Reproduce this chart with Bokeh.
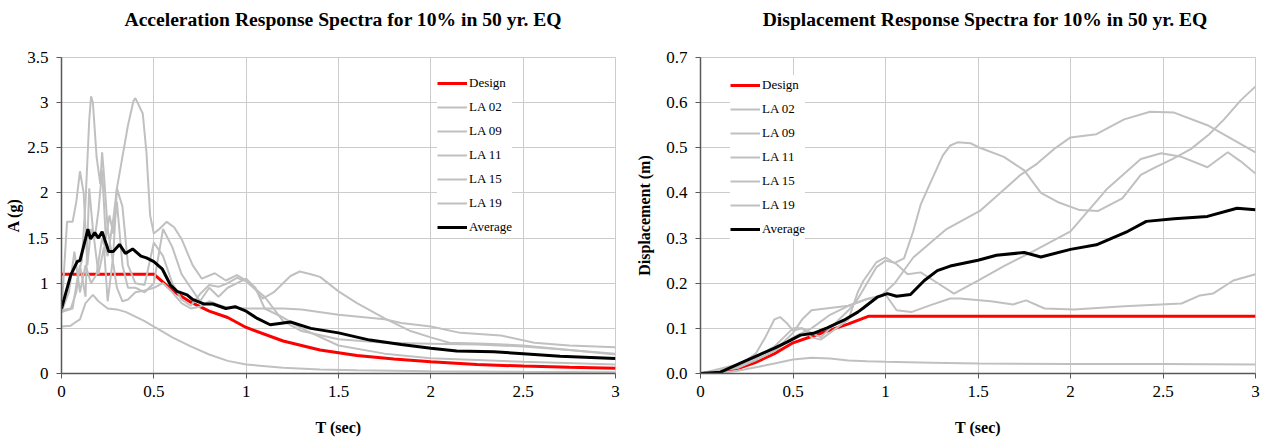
from bokeh.plotting import figure
from bokeh.layouts import row, column
from bokeh.models import Range1d, FixedTicker, Legend, LegendItem, PrintfTickFormatter, Div
from bokeh.embed import file_html
from bokeh.resources import INLINE

FONT = "Liberation Serif"
GREY = "#c0c0c0"
GRID = "#cccccc"
TITLE_H = 38

labels = ["Design", "LA 02", "LA 09", "LA 11", "LA 15", "LA 19", "Average"]
x_ticks = [0, 0.5, 1, 1.5, 2, 2.5, 3]
acc_y_ticks = [0, 0.5, 1, 1.5, 2, 2.5, 3, 3.5]
disp_y_ticks = [0, 0.1, 0.2, 0.3, 0.4, 0.5, 0.6, 0.7]

# ---------------- Acceleration spectra (g) ----------------
acc_design_T = [0, 0.5, 0.6, 0.7, 0.8, 0.9, 1.0, 1.2, 1.4, 1.6, 1.8, 2.0, 2.25, 2.5, 2.75, 3.0]
acc_design_A = [1.1, 1.1, 0.92, 0.79, 0.69, 0.62, 0.51, 0.36, 0.26, 0.20, 0.16, 0.13, 0.10, 0.082, 0.068, 0.057]

acc_la02_T = [0, 0.03, 0.06, 0.09, 0.11, 0.13, 0.15, 0.16, 0.17, 0.19, 0.21, 0.22, 0.23, 0.25, 0.27, 0.3, 0.33,
              0.36, 0.4, 0.45, 0.5, 0.55, 0.6, 0.65, 0.7, 0.75, 0.8, 0.85, 0.9, 1.0, 1.1, 1.2, 1.3, 1.5, 1.75,
              1.84, 2.0, 2.16, 2.38, 2.56, 2.75, 3.0]
acc_la02_A = [0.68, 0.7, 0.72, 1.1, 1.25, 1.9, 2.8, 3.07, 3.0, 2.4, 2.1, 2.45, 2.2, 1.6, 1.35, 0.95, 0.8,
              0.82, 0.9, 0.92, 0.95, 1.0, 0.9, 0.78, 0.72, 0.74, 0.8, 0.76, 0.73, 0.72, 0.72, 0.72, 0.71, 0.65, 0.60,
              0.56, 0.52, 0.45, 0.42, 0.34, 0.31, 0.29]

acc_la09_T = [0, 0.04, 0.07, 0.1, 0.13, 0.16, 0.19, 0.22, 0.25, 0.28, 0.3, 0.33, 0.36, 0.39, 0.4, 0.44, 0.46,
              0.48, 0.5, 0.53, 0.57, 0.61, 0.65, 0.71, 0.76, 0.83, 0.89, 0.95, 1.0, 1.05, 1.09, 1.15, 1.19, 1.24,
              1.29, 1.35, 1.4, 1.5, 1.6, 1.75, 1.89, 2.0, 2.1, 2.3, 2.5, 2.75, 3.0]
acc_la09_A = [0.68, 0.9, 1.35, 0.9, 1.2, 1.0, 1.1, 1.5, 1.3, 1.7, 2.05, 2.4, 2.75, 3.02, 3.05, 2.88, 2.45,
              1.75, 1.55, 1.6, 1.68, 1.62, 1.49, 1.2, 1.05, 1.11, 1.03, 1.09, 1.03, 0.93, 0.83, 0.9, 0.98, 1.08,
              1.13, 1.1, 1.07, 0.91, 0.78, 0.61, 0.47, 0.40, 0.34, 0.33, 0.31, 0.26, 0.21]

acc_la11_T = [0, 0.05, 0.07, 0.1, 0.13, 0.17, 0.2, 0.25, 0.3, 0.35, 0.4, 0.45, 0.5, 0.55, 0.6, 0.7, 0.8, 0.9,
              1.0, 1.2, 1.4, 1.6, 2.0, 2.5, 3.0]
acc_la11_A = [0.52, 0.53, 0.56, 0.6, 0.78, 0.87, 0.8, 0.72, 0.71, 0.68, 0.63, 0.58, 0.52, 0.46, 0.40, 0.30,
              0.21, 0.14, 0.10, 0.065, 0.045, 0.035, 0.025, 0.018, 0.013]

acc_la15_T = [0, 0.03, 0.06, 0.08, 0.1, 0.12, 0.14, 0.16, 0.18, 0.2, 0.22, 0.24, 0.26, 0.28, 0.3, 0.33, 0.36,
              0.4, 0.45, 0.5, 0.55, 0.6, 0.65, 0.7, 0.75, 0.8, 0.85, 0.9, 1.0, 1.05, 1.1, 1.2, 1.3, 1.5, 1.75,
              2.0, 2.5, 3.0]
acc_la15_A = [0.68, 1.68, 1.68, 1.9, 2.24, 2.0, 1.2, 1.6, 1.5, 1.8, 2.25, 1.5, 1.75, 1.55, 1.9, 1.2, 0.95,
              0.95, 0.9, 1.0, 1.6, 1.4, 1.1, 0.95, 0.8, 0.95, 0.85, 0.95, 1.05, 0.95, 0.72, 0.62, 0.5, 0.31, 0.22,
              0.17, 0.13, 0.10]

acc_la19_T = [0, 0.05, 0.08, 0.1, 0.13, 0.15, 0.17, 0.2, 0.23, 0.25, 0.28, 0.3, 0.33, 0.36, 0.4, 0.45, 0.5,
              0.55, 0.6, 0.65, 0.7, 0.75, 0.8, 0.85, 0.9, 0.95, 1.0, 1.1, 1.2, 1.3, 1.5, 1.75, 2.0, 2.25, 2.5,
              2.75, 3.0]
acc_la19_A = [0.7, 0.72, 0.9, 1.2, 0.85, 2.05, 1.6, 1.1, 1.4, 0.8, 1.3, 2.05, 1.85, 1.2, 1.0, 0.98, 1.45,
              1.3, 1.0, 0.82, 0.75, 0.88, 0.98, 0.96, 1.0, 1.06, 1.02, 0.85, 0.58, 0.47, 0.38, 0.34, 0.33, 0.32,
              0.30, 0.26, 0.22]

acc_avg_T = [0, 0.05, 0.085, 0.1, 0.13, 0.143, 0.157, 0.18, 0.2, 0.22, 0.256, 0.28, 0.314, 0.346, 0.385, 0.43,
             0.46, 0.5, 0.545, 0.59, 0.626, 0.68, 0.71, 0.77, 0.82, 0.89, 0.94, 1.0, 1.06, 1.13, 1.24, 1.35, 1.5,
             1.67, 1.84, 2.0, 2.14, 2.34, 2.5, 2.7, 3.0]
acc_avg_A = [0.72, 1.09, 1.24, 1.25, 1.49, 1.60, 1.49, 1.56, 1.50, 1.57, 1.35, 1.35, 1.43, 1.33, 1.38, 1.30,
             1.28, 1.24, 1.16, 0.98, 0.91, 0.87, 0.82, 0.77, 0.77, 0.72, 0.74, 0.69, 0.61, 0.54, 0.57, 0.50, 0.45,
             0.37, 0.32, 0.28, 0.25, 0.24, 0.22, 0.19, 0.165]

# ---------------- Displacement spectra (m) ----------------
disp_design_T = [0, 0.1, 0.2, 0.3, 0.4, 0.5, 0.6, 0.7, 0.8, 0.91, 3.0]
disp_design_D = [0, 0.003, 0.011, 0.025, 0.044, 0.068, 0.082, 0.096, 0.110, 0.127, 0.127]

disp_la02_T = [0, 0.1, 0.15, 0.2, 0.25, 0.3, 0.35, 0.4, 0.43, 0.47, 0.5, 0.55, 0.6, 0.65, 0.7, 0.75, 0.8, 0.85,
               0.9, 0.95, 1.0, 1.05, 1.1, 1.15, 1.19, 1.24, 1.31, 1.35, 1.39, 1.46, 1.51, 1.64, 1.75, 1.84, 1.93,
               2.05, 2.15, 2.28, 2.38, 2.45, 2.55, 2.65, 2.75, 2.83, 2.92, 3.0]
disp_la02_D = [0, 0.002, 0.01, 0.02, 0.03, 0.045, 0.08, 0.12, 0.125, 0.11, 0.095, 0.10, 0.09, 0.08, 0.1, 0.12,
               0.14, 0.165, 0.2, 0.235, 0.25, 0.245, 0.255, 0.315, 0.374, 0.42, 0.483, 0.505, 0.512, 0.51, 0.50,
               0.48, 0.45, 0.40, 0.38, 0.362, 0.36, 0.388, 0.44, 0.455, 0.475, 0.497, 0.53, 0.563, 0.605, 0.636]

disp_la09_T = [0, 0.2, 0.3, 0.4, 0.5, 0.6, 0.7, 0.8, 0.9, 0.97, 1.05, 1.15, 1.33, 1.51, 1.62, 1.73, 1.82, 1.91,
               2.0, 2.14, 2.29, 2.43, 2.56, 2.74, 3.0]
disp_la09_D = [0, 0.012, 0.03, 0.05, 0.08, 0.1, 0.13, 0.15, 0.165, 0.17, 0.2, 0.257, 0.32, 0.36, 0.40, 0.44,
               0.465, 0.497, 0.523, 0.53, 0.563, 0.58, 0.578, 0.55, 0.49]

disp_la11_T = [0, 0.1, 0.2, 0.3, 0.4, 0.5, 0.6, 0.7, 0.8, 0.9, 1.0, 1.25, 1.5, 2.0, 2.5, 3.0]
disp_la11_D = [0, 0.001, 0.006, 0.014, 0.022, 0.031, 0.035, 0.033, 0.029, 0.027, 0.026, 0.024, 0.022, 0.021,
               0.021, 0.020]

disp_la15_T = [0, 0.2, 0.3, 0.4, 0.5, 0.55, 0.6, 0.65, 0.7, 0.8, 0.85, 0.88, 0.95, 1.0, 1.06, 1.12, 1.19, 1.26,
               1.37, 1.5, 1.64, 1.8, 2.0, 2.2, 2.38, 2.49, 2.6, 2.74, 2.85, 2.92, 3.0]
disp_la15_D = [0, 0.02, 0.035, 0.06, 0.1, 0.1, 0.08, 0.075, 0.09, 0.12, 0.18, 0.205, 0.246, 0.257, 0.242, 0.22,
               0.224, 0.206, 0.177, 0.206, 0.238, 0.271, 0.315, 0.41, 0.475, 0.488, 0.48, 0.457, 0.49, 0.47, 0.443]

disp_la19_T = [0, 0.2, 0.3, 0.4, 0.5, 0.55, 0.6, 0.7, 0.8, 0.9, 1.0, 1.06, 1.14, 1.24, 1.35, 1.4, 1.57, 1.69,
               1.76, 1.86, 2.02, 2.29, 2.6, 2.7, 2.77, 2.88, 3.0]
disp_la19_D = [0, 0.015, 0.03, 0.05, 0.09, 0.12, 0.14, 0.145, 0.15, 0.165, 0.175, 0.14, 0.136, 0.151, 0.166,
               0.166, 0.16, 0.153, 0.162, 0.144, 0.142, 0.149, 0.155, 0.173, 0.177, 0.206, 0.22]

disp_avg_T = [0, 0.108, 0.216, 0.32, 0.40, 0.47, 0.54, 0.61, 0.685, 0.775, 0.85, 0.88, 0.955, 1.01, 1.06, 1.135,
              1.21, 1.28, 1.35, 1.5, 1.6, 1.75, 1.84, 2.0, 2.14, 2.31, 2.41, 2.56, 2.74, 2.9, 3.0]
disp_avg_D = [0, 0.003, 0.023, 0.042, 0.056, 0.07, 0.085, 0.089, 0.101, 0.118, 0.136, 0.145, 0.169, 0.177, 0.171,
              0.175, 0.206, 0.228, 0.238, 0.251, 0.262, 0.268, 0.258, 0.275, 0.285, 0.315, 0.337, 0.343, 0.348,
              0.366, 0.363]


def title_div(text, pad_left):
    return Div(text=text, width=632, height=TITLE_H, margin=0,
               styles={"font-family": FONT, "font-size": "19.6px", "font-weight": "bold", "color": "#000000",
                       "text-align": "center", "line-height": "40px", "padding-left": f"{pad_left}px",
                       "box-sizing": "border-box", "white-space": "nowrap"})


def make_fig(ylabel, yend, yticks, series, legend_xy, width, borders, ylabel_standoff):
    bl, br, bt, bb = borders
    p = figure(width=width, height=438 - TITLE_H, x_range=Range1d(0, 3), y_range=Range1d(0, yend),
               toolbar_location=None, output_backend="svg",
               min_border_left=bl, min_border_right=br, min_border_top=bt, min_border_bottom=bb)

    p.outline_line_color = GRID
    p.outline_line_width = 1
    p.background_fill_color = "white"
    p.border_fill_color = "white"
    p.grid.grid_line_color = GRID
    p.grid.grid_line_width = 1
    p.xgrid.ticker = FixedTicker(ticks=x_ticks)
    p.ygrid.ticker = FixedTicker(ticks=yticks)

    p.xaxis.ticker = FixedTicker(ticks=x_ticks)
    p.xaxis.major_label_overrides = {t: f"{t:g}" for t in x_ticks}
    p.yaxis.ticker = FixedTicker(ticks=yticks)
    for ax in (p.xaxis[0], p.yaxis[0]):
        ax.axis_line_color = "#595959"
        ax.axis_line_width = 1.5
        ax.major_tick_line_color = "#595959"
        ax.major_tick_out = 5
        ax.major_tick_in = 0
        ax.minor_tick_line_color = None
        ax.major_label_text_font = FONT
        ax.major_label_text_font_size = "17px"
        ax.major_label_text_color = "#000000"
        ax.axis_label_text_font = FONT
        ax.axis_label_text_font_size = "16px"
        ax.axis_label_text_font_style = "bold"
        ax.axis_label_text_color = "#000000"
    p.xaxis.axis_label = "T (sec)"
    p.xaxis.axis_label_standoff = 19
    p.xaxis.major_label_standoff = 7
    p.yaxis.axis_label = ylabel
    p.yaxis.axis_label_standoff = ylabel_standoff
    p.yaxis.major_label_standoff = 8

    design, greys, avg = series
    rd = p.line(design[0], design[1], line_color="#ff0000", line_width=3)
    gr = [p.line(t, v, line_color=GREY, line_width=2) for t, v in greys]
    bk = p.line(avg[0], avg[1], line_color="#000000", line_width=3)
    rends = [rd] + gr + [bk]
    items = [LegendItem(label=l, renderers=[r]) for l, r in zip(labels, rends)]
    leg = Legend(items=items, location=legend_xy, glyph_width=30, glyph_height=20, label_height=20,
                 spacing=4, label_standoff=2, padding=6, margin=0,
                 label_text_font=FONT, label_text_font_size="13px", label_text_color="#000000",
                 border_line_color=None, background_fill_color="white", background_fill_alpha=1.0)
    p.add_layout(leg)
    return p


p1 = make_fig("A (g)", 3.5, acc_y_ticks,
              ((acc_design_T, acc_design_A),
               [(acc_la02_T, acc_la02_A), (acc_la09_T, acc_la09_A), (acc_la11_T, acc_la11_A),
                (acc_la15_T, acc_la15_A), (acc_la19_T, acc_la19_A)],
               (acc_avg_T, acc_avg_A)),
              (376, 136), 632, (61, 17, 57 - TITLE_H, 62), 2)
p1.yaxis.major_label_overrides = {t: f"{t:g}" for t in acc_y_ticks}

p2 = make_fig("Displacement (m)", 0.7, disp_y_ticks,
              ((disp_design_T, disp_design_D),
               [(disp_la02_T, disp_la02_D), (disp_la09_T, disp_la09_D), (disp_la11_T, disp_la11_D),
                (disp_la15_T, disp_la15_D), (disp_la19_T, disp_la19_D)],
               (disp_avg_T, disp_avg_D)),
              (30, 134), 632, (68, 9, 55 - TITLE_H, 64), 10)
p2.yaxis.formatter = PrintfTickFormatter(format="%.1f")

t1 = title_div("Acceleration Response Spectra for 10% in 50 yr. EQ", 54)
t2 = title_div("Displacement Response Spectra for 10% in 50 yr. EQ", 74)

layout = column(row(t1, t2), row(p1, p2))
open("out.html", "w").write(file_html(layout, INLINE))
